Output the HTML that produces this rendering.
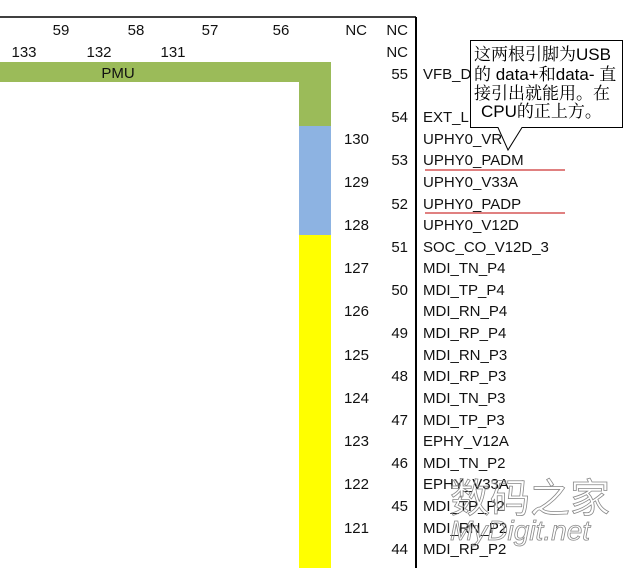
<!DOCTYPE html>
<html><head><meta charset="utf-8"><style>
html,body{margin:0;padding:0;background:#fff;}
svg{display:block;}
text{font-family:"Liberation Sans","Noto Sans CJK SC",sans-serif;font-size:15px;fill:#111;}
.cj{font-family:"Liberation Sans","Noto Serif CJK SC","Noto Sans CJK SC",sans-serif;font-size:17px;fill:#000;}
</style></head><body>
<svg width="626" height="568" viewBox="0 0 626 568" xmlns="http://www.w3.org/2000/svg">
<rect width="626" height="568" fill="#fff"/>
<line x1="0" y1="17" x2="416" y2="17" stroke="#000" stroke-width="1.5"/>
<line x1="416" y1="17" x2="416" y2="568" stroke="#000" stroke-width="2"/>
<rect x="0" y="62" width="331" height="20" fill="#9bbb59"/>
<rect x="299" y="62" width="32" height="64" fill="#9bbb59"/>
<rect x="299" y="126" width="32" height="109" fill="#8db3e2"/>
<rect x="299" y="235" width="32" height="333" fill="#ffff00"/>
<text x="118" y="78" text-anchor="middle">PMU</text>
<g text-anchor="middle">
<text x="61" y="35">59</text><text x="136" y="35">58</text><text x="210" y="35">57</text><text x="281" y="35">56</text>
<text x="24" y="57">133</text><text x="99" y="57">132</text><text x="173" y="57">131</text>
</g>
<g text-anchor="end">
<text x="367" y="35">NC</text>
<text x="408" y="35">NC</text><text x="408" y="57">NC</text><text x="408" y="79">55</text>
<text x="408" y="122">54</text><text x="408" y="165">53</text><text x="408" y="209">52</text>
<text x="408" y="252">51</text><text x="408" y="295">50</text><text x="408" y="338">49</text>
<text x="408" y="381">48</text><text x="408" y="425">47</text><text x="408" y="468">46</text>
<text x="408" y="511">45</text><text x="408" y="554">44</text>
<text x="369" y="144">130</text><text x="369" y="187">129</text><text x="369" y="230">128</text>
<text x="369" y="273">127</text><text x="369" y="316">126</text><text x="369" y="360">125</text>
<text x="369" y="403">124</text><text x="369" y="446">123</text><text x="369" y="489">122</text>
<text x="369" y="533">121</text>
</g>
<g>
<text x="423" y="79">VFB_D</text>
<text x="423" y="122">EXT_LD</text>
<text x="423" y="144">UPHY0_VR</text>
<text x="423" y="165">UPHY0_PADM</text>
<text x="423" y="187">UPHY0_V33A</text>
<text x="423" y="209">UPHY0_PADP</text>
<text x="423" y="230">UPHY0_V12D</text>
<text x="423" y="252">SOC_CO_V12D_3</text>
<text x="423" y="273">MDI_TN_P4</text>
<text x="423" y="295">MDI_TP_P4</text>
<text x="423" y="316">MDI_RN_P4</text>
<text x="423" y="338">MDI_RP_P4</text>
<text x="423" y="360">MDI_RN_P3</text>
<text x="423" y="381">MDI_RP_P3</text>
<text x="423" y="403">MDI_TN_P3</text>
<text x="423" y="425">MDI_TP_P3</text>
<text x="423" y="446">EPHY_V12A</text>
<text x="423" y="468">MDI_TN_P2</text>
<text x="423" y="489">EPHY_V33A</text>
<text x="423" y="511">MDI_TP_P2</text>
<text x="423" y="533">MDI_RN_P2</text>
<text x="423" y="554">MDI_RP_P2</text>
</g>
<line x1="425" y1="170" x2="565" y2="170" stroke="#c00000" stroke-width="1"/>
<line x1="425" y1="213" x2="565" y2="213" stroke="#c00000" stroke-width="1"/>
<path d="M470.5,40.5 H622.5 V127.5 H522 L508,150 L498,127.5 H470.5 Z" fill="#fff" stroke="#000" stroke-width="1"/>
<text class="cj" x="474" y="60">这两根引脚为USB</text>
<text class="cj" x="474" y="80">的 data+和data- 直</text>
<text class="cj" x="474" y="99">接引出就能用。在</text>
<text class="cj" x="481" y="117">CPU的正上方。</text>
<text x="450" y="512" style="font-size:40px;fill:none;stroke:#888;stroke-width:0.8">数码之家</text>
<text x="450" y="540" style="font-size:28px;font-style:italic;fill:none;stroke:#888;stroke-width:0.8">MyDigit.net</text>
</svg>
</body></html>
